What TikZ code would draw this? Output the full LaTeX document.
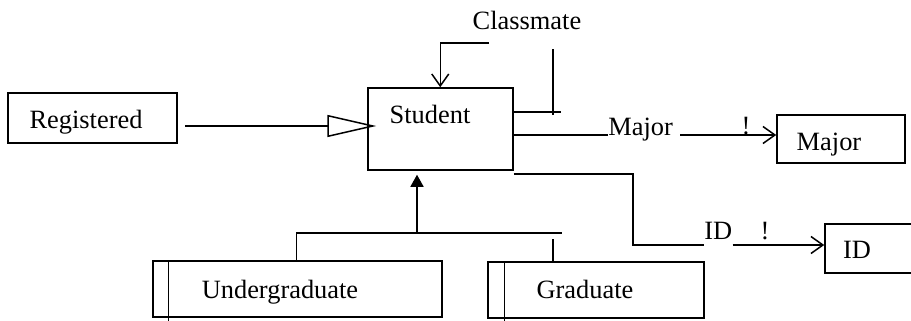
\documentclass[tikz,border=0pt]{standalone}
\usepackage{fontspec}
\setmainfont{Liberation Serif}
\usetikzlibrary{arrows.meta, positioning, fit, calc}
\tikzset{
  box/.style={rectangle, draw=black, line width=0.75pt, inner sep=0pt},
  txt/.style={inner sep=0pt, anchor=base, font=\fontsize{13.2}{15}\selectfont},
  link/.style={line width=0.75pt},
  barb/.style={link, -{Straight Barb[length=6pt,width=8.5pt]}},
  isa/.style={link, -{Triangle[open,length=24.5pt,width=11pt]}},
  kind/.style={link, -{Triangle[length=6pt,width=6.5pt]}},
}

\begin{document}
\begin{tikzpicture}[x=0.5pt,y=-0.5pt]
  \useasboundingbox (0,0) rectangle (911,321);
  % boxes
  \node[box,fit={(8,93)(177,143)}] (registered) {};
  \node[box,fit={(368,88)(513,170)}] (student) {};
  \node[box,fit={(777,115)(905,163)}] (major) {};
  \node[box,fit={(825,224)(916,273)}] (id) {};
  \node[box,fit={(153,261)(442,317)}] (undergrad) {};
  \node[box,fit={(488,262)(704,318)}] (grad) {};
  \draw[link] ($(undergrad.north west)+(16,0)$) -- ($(undergrad.south west)+(16,4)$);
  \draw[link] ($(grad.north west)+(17,0)$) -- ($(grad.south west)+(17,3)$);
  % texts
  \node[txt] (registeredtxt) at (86,128) {Registered};
  \node[txt] (studenttxt) at (430,123) {Student};
  \node[txt] (classmatetxt) at (527,30) {Classmate};
  \node[txt] (majortxt) at (829,150) {Major};
  \node[txt] (idtxt) at (857,258) {ID};
  \node[txt] (undergradtxt) at (280,298) {Undergraduate};
  \node[txt] (gradtxt) at (585,298) {Graduate};
  \node[txt,anchor=base west] (majorrole) at (608,135) {Major};
  \node[txt,anchor=base west] (idrole) at (704,239) {ID};
  \node[txt] (majorbang) at (746,134) {!};
  \node[txt] (idbang) at (765,239) {!};
  % free ends
  \coordinate (regout) at (185,126);
  \coordinate (cmstart) at (489,43);
  \coordinate (cmtop) at (553,49);
  \coordinate (cmbot) at (553,115);
  \coordinate (cmend) at (561,112);
  \coordinate (idbend) at (633,245);
  \coordinate (genmid) at (417,233);
  \coordinate (genend) at (562,233);
  \coordinate (gradstub) at (553,239);
  % connectors
  \draw[isa,shorten >=-4.5pt] (regout) -- (student.west |- regout);
  \draw[barb] (cmstart) -| ($(student.north west)+(73,0)$);
  \draw[link] (student.east |- cmend) -- (cmend);
  \draw[link] (cmtop) -- (cmbot);
  \draw[link] (student.east |- majorrole.base west) -- (majorrole.base west);
  \draw[barb] ([xshift=3.5pt]majorrole.base east) -- (major.west |- majorrole.base east);
  \draw[link] ([yshift=-1.5pt]student.south east) -| (idbend) -- (idrole.west |- idbend);
  \draw[barb] (idrole.east |- idbend) -- (id.west |- idbend);
  \draw[link] ($(undergrad.north west)+(144,0)$) |- (genend);
  \draw[kind,shorten >=2pt] (genmid) -- (student.south -| genmid);
  \draw[link] (grad.north -| gradstub) -- (gradstub);
\end{tikzpicture}
\end{document}
